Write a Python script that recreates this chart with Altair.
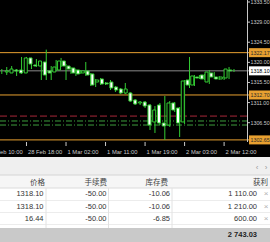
import altair as alt
import pandas as pd

# ---------------- data ----------------
idx = list(range(48))
opens = [1317.84, 1317.62, 1318.29, 1318.29, 1317.62, 1320.98, 1319.41, 1319.18, 1320.08, 1318.07,
         1317.84, 1318.29, 1320.30, 1319.18, 1318.74, 1318.29, 1317.62, 1318.07, 1317.40, 1315.60,
         1316.28, 1315.38, 1315.60, 1314.48, 1314.04, 1313.14, 1313.14, 1311.58, 1310.91, 1311.13,
         1310.46, 1306.66, 1310.46, 1306.43, 1305.98, 1310.91, 1309.79, 1306.66, 1316.05, 1314.93,
         1316.72, 1317.17, 1315.60, 1317.62, 1316.72, 1316.28, 1316.50, 1318.29]
highs = [1318.51, 1318.96, 1319.18, 1318.51, 1321.20, 1321.20, 1320.08, 1320.75, 1320.30, 1322.85,
         1319.18, 1320.53, 1320.98, 1319.63, 1318.96, 1318.51, 1318.29, 1320.08, 1317.62, 1316.28,
         1316.50, 1315.60, 1316.05, 1314.71, 1314.26, 1315.38, 1313.37, 1311.80, 1311.35, 1311.35,
         1310.68, 1310.23, 1310.91, 1312.47, 1311.35, 1311.13, 1310.01, 1316.05, 1321.20, 1317.17,
         1317.17, 1317.40, 1318.29, 1317.84, 1316.95, 1316.95, 1318.96, 1318.51]
lows = [1317.40, 1317.17, 1317.62, 1316.95, 1317.40, 1319.41, 1318.51, 1318.96, 1316.05, 1316.05,
        1316.05, 1318.07, 1318.96, 1316.05, 1317.40, 1316.95, 1317.40, 1316.95, 1314.71, 1314.48,
        1314.93, 1314.93, 1313.81, 1313.37, 1312.92, 1312.92, 1311.13, 1310.46, 1310.46, 1309.79,
        1304.87, 1304.20, 1305.98, 1302.65, 1305.54, 1308.89, 1303.30, 1306.21, 1314.26, 1314.71,
        1316.28, 1316.05, 1315.16, 1316.28, 1316.05, 1316.05, 1316.28, 1317.84]
closes = [1318.07, 1318.51, 1318.07, 1317.62, 1320.98, 1319.63, 1319.18, 1320.30, 1317.17, 1317.62,
          1318.96, 1320.30, 1319.18, 1318.51, 1317.62, 1317.40, 1318.07, 1317.17, 1314.93, 1316.05,
          1315.16, 1315.16, 1314.26, 1313.81, 1313.14, 1314.04, 1311.35, 1310.68, 1311.13, 1310.23,
          1305.98, 1309.34, 1306.43, 1305.76, 1310.91, 1309.34, 1306.43, 1315.83, 1314.93, 1316.95,
          1316.50, 1316.28, 1317.84, 1316.72, 1316.28, 1316.72, 1318.51, 1318.10]

time_idx = [-3, 5, 13, 21, 29, 37, 45]
time_labels = ["28 Feb 10:00", "28 Feb 18:00", "1 Mar 02:00", "1 Mar 11:00",
               "1 Mar 19:00", "2 Mar 03:00", "2 Mar 12:00"]

price_ticks = [1333.50, 1329.00, 1324.50, 1320.00, 1315.50, 1311.00, 1306.50]
orange_levels = [1322.17, 1312.70, 1302.65]
bid_level = [1318.10]
red_levels = [1307.98]
green_levels = [1306.88, 1305.98]

headers = ["价格", "手续费", "库存费", "获利"]
col_price = ["1318.10", "1318.10", "16.44"]
col_fee = ["-50.00", "-50.00", "-50.00"]
col_swap = ["-10.06", "-10.06", "-6.85"]
col_profit = ["1 110.00", "1 210.00", "600.00"]
total_profit = "2 743.03"

# ---------------- styles ----------------
W, H = 270, 242
GREEN = "#33cc33"
ORANGE = "#e8a030"
AXIS_C = "#c8c8c8"
FONT = "Liberation Sans"
CJK = "Noto Sans CJK SC"

xs = alt.Scale(domain=[-0.364, 54.29], nice=False, zero=False)
ys = alt.Scale(domain=[1279.81, 1333.947], nice=False, zero=False)

cdf = pd.DataFrame({"i": idx, "o": opens, "h": highs, "l": lows, "c": closes})
cdf["dir"] = ["up" if c >= o else "down" for o, c in zip(opens, closes)]

one = pd.DataFrame({"a": [0]})


def X(f):
    return alt.X(f, scale=xs, axis=None)


def Y(f):
    return alt.Y(f, scale=ys, axis=None)


def vrect(x1, x2, y1, y2, color):
    return alt.Chart(one).mark_rect(color=color).encode(
        x=alt.value(x1), x2=alt.value(x2), y=alt.value(y1), y2=alt.value(y2))


def vrule(x1, x2, y1, y2, color, w=1):
    return alt.Chart(one).mark_rule(color=color, strokeWidth=w).encode(
        x=alt.value(x1), x2=alt.value(x2), y=alt.value(y1), y2=alt.value(y2))


layers = []

# level lines
def level_layer(vals, color, x2, dash=None):
    d = pd.DataFrame({"p": vals})
    kw = dict(color=color, strokeWidth=1)
    if dash:
        kw["strokeDash"] = dash
    return alt.Chart(d).mark_rule(**kw).encode(
        y=Y("p:Q"), x=alt.value(0), x2=alt.value(x2))

layers.append(level_layer(red_levels, "#a8283a", 247, [7, 3]))
layers.append(level_layer(green_levels, "#3c9c3c", 247, [6, 2, 1, 2]))
layers.append(level_layer(bid_level, "#8a8a8a", 249))
layers.append(level_layer(orange_levels, ORANGE, 249))

# candles
layers.append(alt.Chart(cdf).mark_rule(color=GREEN, strokeWidth=1).encode(
    x=X("i:Q"), y=Y("l:Q"), y2="h:Q"))
layers.append(alt.Chart(cdf).mark_bar(size=3, stroke=GREEN, strokeWidth=1).encode(
    x=X("i:Q"), y=Y("o:Q"), y2="c:Q",
    fill=alt.Fill("dir:N", scale=alt.Scale(domain=["up", "down"], range=["#000000", "#ffffff"]),
                  legend=None)))

# price axis
layers.append(vrule(247.5, 247.5, 0, 142, AXIS_C))
pt = pd.DataFrame({"p": price_ticks, "lab": [f"{v:.2f}" for v in price_ticks]})
layers.append(alt.Chart(pt).mark_rule(color=AXIS_C).encode(
    y=Y("p:Q"), x=alt.value(247), x2=alt.value(250)))
layers.append(alt.Chart(pt).mark_text(align="left", baseline="middle", font=FONT,
                                      fontSize=5.3, color=AXIS_C).encode(
    y=Y("p:Q"), x=alt.value(250.5), text="lab:N"))

def level_box(vals, fill, tcolor):
    d = pd.DataFrame({"p": vals, "lab": [f"{v:.2f}" for v in vals]})
    box = alt.Chart(d).mark_rect(color=fill, yOffset=-4.5, y2Offset=4.5).encode(
        y=Y("p:Q"), y2="p:Q", x=alt.value(249), x2=alt.value(272))
    txt = alt.Chart(d).mark_text(align="left", baseline="middle", font=FONT,
                                 fontSize=5.3, color=tcolor).encode(
        y=Y("p:Q"), x=alt.value(250.5), text="lab:N")
    return [box, txt]

layers += level_box(orange_levels, ORANGE, "#2a2a2a")
layers += level_box(bid_level, "#ffffff", "#000000")

# time axis
tdf = pd.DataFrame({"t": time_idx, "lab": time_labels})
layers.append(alt.Chart(tdf).mark_rule(color=AXIS_C).encode(
    x=X("t:Q"), y=alt.value(142), y2=alt.value(146)))
layers.append(alt.Chart(tdf).mark_text(align="left", baseline="middle", font=FONT,
                                       fontSize=5.8, color=AXIS_C, dx=1.5).encode(
    x=X("t:Q"), y=alt.value(152), text="lab:N"))

# ---------------- table panel ----------------
layers.append(vrect(0, 270, 157, 242, "#efefef"))
layers.append(vrect(0, 270, 175, 188, "#f6f6f6"))
layers.append(vrect(0, 270, 188, 228, "#ffffff"))
layers.append(vrect(0, 270, 228, 242, "#c9c9c9"))
layers.append(vrule(0, 270, 175, 175, "#d4d4d4"))
layers.append(vrule(0, 270, 188, 188, "#dcdcdc"))
layers.append(vrule(0, 270, 200.5, 200.5, "#ececec"))
layers.append(vrule(0, 270, 212.5, 212.5, "#ececec"))
layers.append(vrule(0, 270, 224.5, 224.5, "#ececec"))
for xv in [46, 108.5, 172]:
    layers.append(vrule(xv, xv, 188, 228, "#e2e2e2"))

arrows = pd.DataFrame({"s": ["‹", "›"], "k": [0, 1]})
layers.append(alt.Chart(arrows).mark_text(font=FONT, fontSize=8, color="#9a9a9a",
                                          baseline="middle").encode(
    x=alt.X("k:Q", scale=alt.Scale(domain=[0, 1], range=[257, 266]), axis=None),
    y=alt.value(168), text="s:N"))

header_right = [45, 107, 168, 268]
hdf = pd.DataFrame({"h": headers})
for k, hx in enumerate(header_right):
    layers.append(alt.Chart(hdf.iloc[[k]]).mark_text(
        align="right", baseline="middle", font=CJK, fontSize=7.5, color="#444444").encode(
        x=alt.value(hx), y=alt.value(182.5), text="h:N"))

rows = pd.DataFrame({"row": [0, 1, 2], "price": col_price, "fee": col_fee,
                     "swap": col_swap, "profit": col_profit, "x": ["×"] * 3})
ry = alt.Y("row:Q", scale=alt.Scale(domain=[0, 2], range=[194.3, 218.7]), axis=None)
for field, rx in [("price", 43.5), ("fee", 106.5), ("swap", 170), ("profit", 257)]:
    layers.append(alt.Chart(rows).mark_text(
        align="right", baseline="middle", font=FONT, fontSize=7.5, color="#333333").encode(
        x=alt.value(rx), y=ry, text=f"{field}:N"))
layers.append(alt.Chart(rows).mark_text(
    align="center", baseline="middle", font=FONT, fontSize=8, color="#b0b0b0").encode(
    x=alt.value(266), y=ry, text="x:N"))

tot = pd.DataFrame({"v": [total_profit]})
layers.append(alt.Chart(tot).mark_text(
    align="right", baseline="middle", font=FONT, fontSize=7.5, fontWeight="bold",
    color="#222222").encode(x=alt.value(257), y=alt.value(235), text="v:N"))

chart = alt.layer(*layers).resolve_scale(x="independent", y="independent").properties(
    width=W, height=H, background="#000000", padding=0,
    autosize=alt.AutoSizeParams(type="none")
).configure_view(stroke=None)

chart.save("out.html", embed_options={"renderer": "svg", "actions": False})
